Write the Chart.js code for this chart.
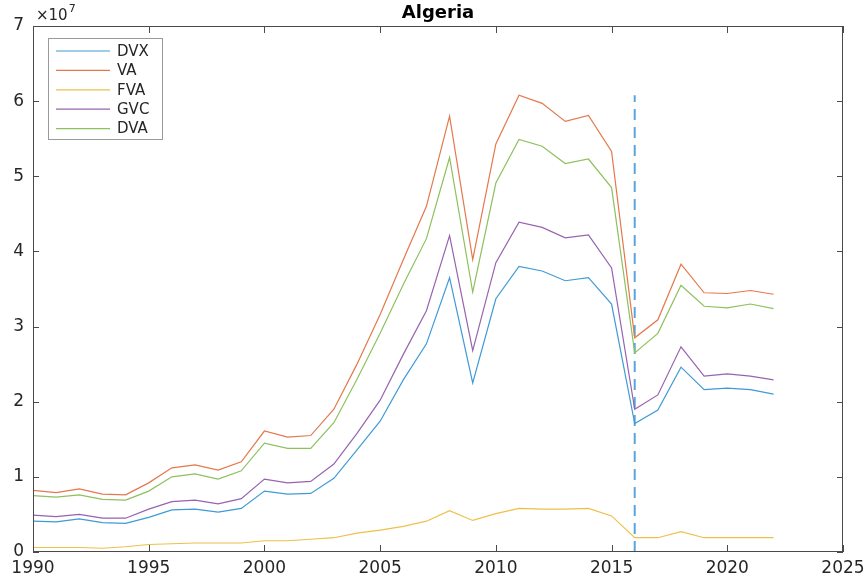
<!DOCTYPE html>
<html>
<head>
<meta charset="utf-8">
<script src="https://cdn.jsdelivr.net/npm/chart.js@4.4.0/dist/chart.umd.min.js"></script>
<style>
    html, body { margin: 0; padding: 0; background: #fff; }
    #chart { display: block; }
</style>
</head>
<body>
<canvas id="chart" width="868" height="579"></canvas>
<script>
const years = [];
for (let y = 1990; y <= 2022; y++) years.push(y);

// values in units of 1e7
const dvx = [0.41, 0.40, 0.44, 0.39, 0.38, 0.46, 0.56, 0.57, 0.53, 0.58,
    0.81, 0.77, 0.78, 0.98, 1.36, 1.74, 2.29, 2.77, 3.65, 2.25,
    3.37, 3.80, 3.74, 3.61, 3.65, 3.30, 1.71, 1.89, 2.46, 2.16,
    2.18, 2.16, 2.10];
const va = [0.82, 0.79, 0.84, 0.77, 0.76, 0.92, 1.12, 1.16, 1.09, 1.20,
    1.61, 1.53, 1.55, 1.90, 2.50, 3.16, 3.89, 4.60, 5.80, 3.89,
    5.43, 6.08, 5.97, 5.73, 5.81, 5.33, 2.85, 3.09, 3.83, 3.45,
    3.44, 3.48, 3.43];
const fva = [0.06, 0.06, 0.06, 0.05, 0.07, 0.10, 0.11, 0.12, 0.12, 0.12,
    0.15, 0.15, 0.17, 0.19, 0.25, 0.29, 0.34, 0.41, 0.55, 0.42,
    0.51, 0.58, 0.57, 0.57, 0.58, 0.48, 0.19, 0.19, 0.27, 0.19,
    0.19, 0.19, 0.19];
const gvc = [0.49, 0.47, 0.50, 0.45, 0.45, 0.57, 0.67, 0.69, 0.64, 0.71,
    0.97, 0.92, 0.94, 1.17, 1.58, 2.02, 2.63, 3.21, 4.21, 2.68,
    3.85, 4.39, 4.32, 4.18, 4.22, 3.78, 1.90, 2.09, 2.73, 2.34,
    2.37, 2.34, 2.29];
const dva = [0.75, 0.73, 0.76, 0.70, 0.69, 0.81, 1.00, 1.04, 0.97, 1.08,
    1.45, 1.38, 1.38, 1.72, 2.30, 2.91, 3.56, 4.17, 5.25, 3.46,
    4.91, 5.49, 5.40, 5.17, 5.23, 4.85, 2.65, 2.91, 3.55, 3.27,
    3.25, 3.30, 3.24];

const seriesNames = ['DVX', 'VA', 'FVA', 'GVC', 'DVA'];
const seriesColors = ['#3f9bd6', '#e4784d', '#eec04a', '#9763ae', '#8fc05e'];

const dashYear = 2016;
const dashTop = 6.08;

const xTicks = [1990, 1995, 2000, 2005, 2010, 2015, 2020, 2025];
const yTicks = [0, 1, 2, 3, 4, 5, 6, 7];

const SCALE = 1e7;
const toPoints = vals => vals.map((v, i) => ({ x: years[i], y: v * SCALE }));

const font = 'DejaVu Sans';
const textColor = '#262626';

const datasets = [dvx, va, fva, gvc, dva].map((vals, i) => ({
    label: seriesNames[i],
    data: toPoints(vals),
    borderColor: seriesColors[i],
    borderWidth: 1.2,
    pointRadius: 0,
    fill: false,
    tension: 0
}));
datasets.push({
    label: 'marker',
    data: [{ x: dashYear, y: 0 }, { x: dashYear, y: dashTop * SCALE }],
    borderColor: '#5aa6dc',
    borderWidth: 2,
    borderDash: [11, 7],
    pointRadius: 0,
    fill: false
});

// box, inner ticks, title, exponent and legend, MATLAB style
const matlabAxes = {
    id: 'matlabAxes',
    afterDraw(chart) {
        const ctx = chart.ctx;
        const a = chart.chartArea;
        const xs = chart.scales.x;
        const ys = chart.scales.y;
        ctx.save();
        ctx.strokeStyle = '#4a4a4a';
        ctx.lineWidth = 1;
        ctx.strokeRect(a.left + 0.5, a.top + 0.5, a.right - a.left - 1, a.bottom - a.top - 1);

        ctx.beginPath();
        xTicks.forEach(t => {
            const px = Math.round(xs.getPixelForValue(t)) + 0.5;
            ctx.moveTo(px, a.bottom); ctx.lineTo(px, a.bottom - 7);
            ctx.moveTo(px, a.top); ctx.lineTo(px, a.top + 7);
        });
        yTicks.forEach(t => {
            const py = Math.round(ys.getPixelForValue(t * SCALE)) + 0.5;
            ctx.moveTo(a.left, py); ctx.lineTo(a.left + 6, py);
            ctx.moveTo(a.right, py); ctx.lineTo(a.right - 6, py);
        });
        ctx.stroke();

        // title
        ctx.fillStyle = '#000';
        ctx.font = 'bold 18px "' + font + '"';
        ctx.textAlign = 'center';
        ctx.textBaseline = 'middle';
        ctx.fillText('Algeria', (a.left + a.right) / 2, 13);

        // exponent
        ctx.fillStyle = textColor;
        ctx.textAlign = 'left';
        ctx.font = '15px "' + font + '"';
        ctx.fillText('\u00d710', 36, 16);
        const w = ctx.measureText('\u00d710').width;
        ctx.font = '11px "' + font + '"';
        ctx.fillText('7', 36 + w + 1, 9);

        // legend
        const lx = 48, ly = 38, lw = 114, lh = 101;
        ctx.fillStyle = '#fff';
        ctx.fillRect(lx, ly, lw, lh);
        ctx.strokeStyle = '#9a9a9a';
        ctx.strokeRect(lx + 0.5, ly + 0.5, lw, lh);
        ctx.font = '15px "' + font + '"';
        seriesNames.forEach((name, i) => {
            const ry = 51 + i * 19.4;
            ctx.strokeStyle = seriesColors[i];
            ctx.lineWidth = 1.2;
            ctx.beginPath();
            ctx.moveTo(56, ry); ctx.lineTo(110, ry);
            ctx.stroke();
            ctx.fillStyle = textColor;
            ctx.fillText(name, 117, ry + 1);
        });
        ctx.restore();
    }
};

new Chart(document.getElementById('chart').getContext('2d'), {
    type: 'line',
    data: { datasets: datasets },
    options: {
        responsive: false,
        animation: false,
        devicePixelRatio: 1,
        layout: { padding: { top: 26, right: 25, left: 0, bottom: 0 } },
        scales: {
            x: {
                type: 'linear',
                min: 1990,
                max: 2025,
                afterBuildTicks: s => { s.ticks = xTicks.map(v => ({ value: v })); },
                afterFit: s => {
                    s.height = 27;
                    s.paddingLeft = 0;
                    s.paddingRight = 0;
                },
                grid: { display: false, drawTicks: false },
                border: { display: false },
                ticks: {
                    color: textColor,
                    padding: 6,
                    maxRotation: 0,
                    font: { family: font, size: 17 },
                    callback: v => String(v)
                }
            },
            y: {
                type: 'linear',
                min: 0,
                max: 7 * SCALE,
                afterBuildTicks: s => { s.ticks = yTicks.map(v => ({ value: v * SCALE })); },
                afterFit: s => { s.width = 33; },
                grid: { display: false, drawTicks: false },
                border: { display: false },
                ticks: {
                    color: textColor,
                    padding: 9,
                    font: { family: font, size: 17 },
                    callback: v => String(Math.round(v / SCALE))
                }
            }
        },
        plugins: {
            legend: { display: false },
            title: { display: false },
            tooltip: { enabled: false }
        }
    },
    plugins: [matlabAxes]
});
</script>
</body>
</html>
